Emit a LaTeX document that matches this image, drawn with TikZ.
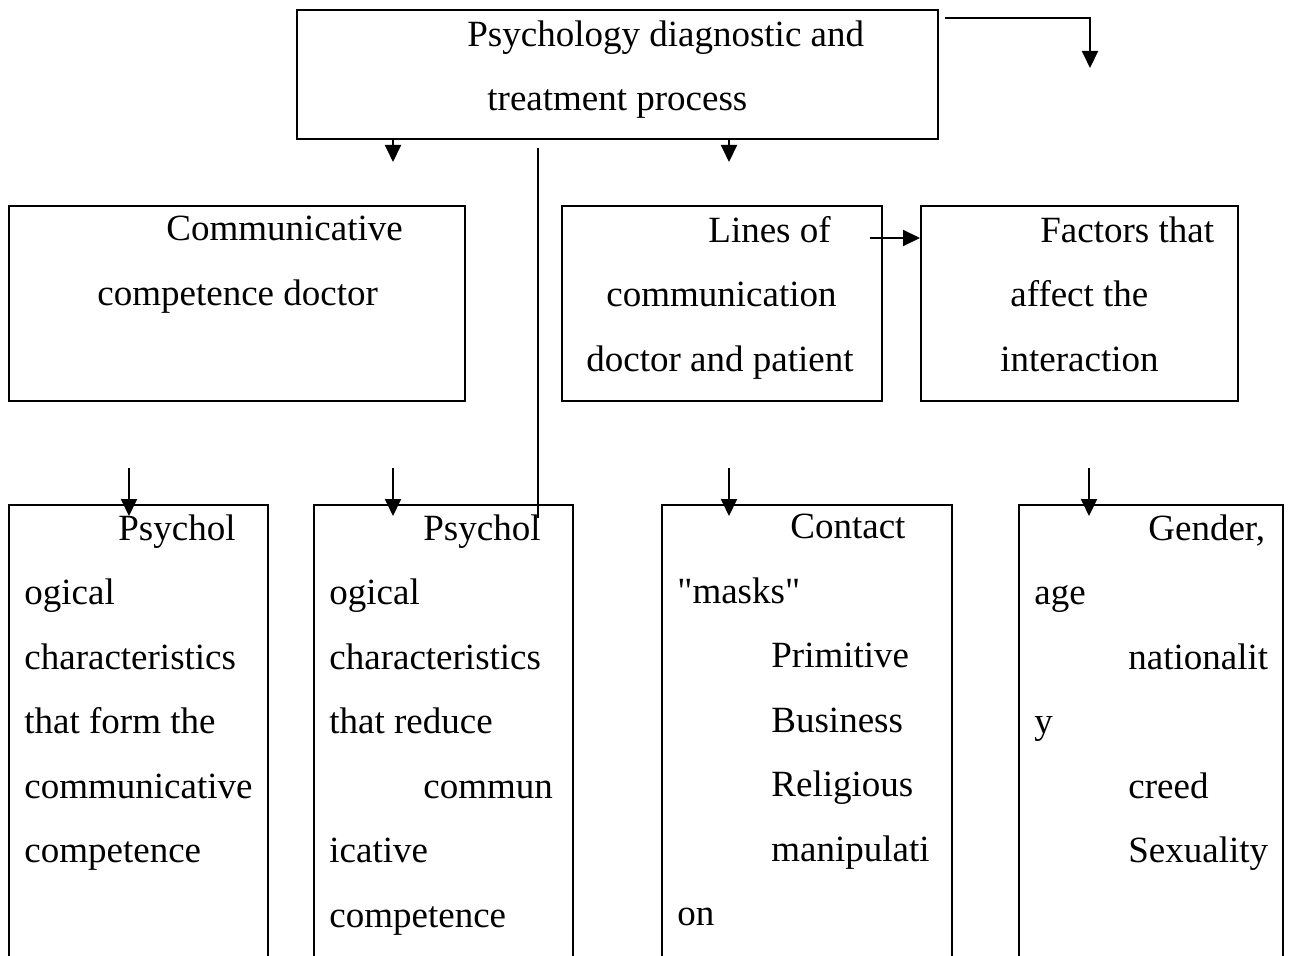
\documentclass[tikz,border=0pt]{standalone}
\usepackage{fontspec}
\setmainfont{Liberation Serif}[Ligatures=TeXOff]
\usetikzlibrary{arrows.meta}
\tikzset{
  box/.style={draw, line width=1pt, inner sep=0pt},
  txt/.style={inner sep=0pt, anchor=north west, align=left, font=\fontsize{18.5}{32.25}\selectfont},
  arr/.style={line width=1pt, -{Triangle[length=8.5pt,width=8pt]}},
}
\begin{document}
\begin{tikzpicture}[x=0.5pt,y=-0.5pt]
    \useasboundingbox (0,0) rectangle (1294,956);
    \clip (0,0) rectangle (1294,956);
    % boxes
    \node[box, minimum width=320.5pt, minimum height=64.5pt] (process) at (617.5,74.5) {};
    \node[box, minimum width=228pt, minimum height=97.5pt] (competence) at (237,303.5) {};
    \node[box, minimum width=160pt, minimum height=97.5pt] (lines) at (722,303.5) {};
    \node[box, minimum width=158.5pt, minimum height=97.5pt] (factors) at (1079.5,303.5) {};
    \node[box, minimum width=129.5pt, minimum height=247.5pt] (formA) at (138.5,752.5) {};
    \node[box, minimum width=129.5pt, minimum height=247.5pt] (reduceB) at (443.5,752.5) {};
    \node[box, minimum width=145pt, minimum height=247.5pt] (masks) at (807,752.5) {};
    \node[box, minimum width=132pt, minimum height=247.5pt] (gender) at (1151,752.5) {};
    % texts
    \node[txt] (tProcess) at (467,20) {Psychology diagnostic and\\\hspace*{10pt}treatment process};
    \node[txt] (tCompetence) at (97,216) {\hspace*{34.5pt}Communicative\\competence doctor};
    \node[txt] (tLines) at (586,216) {\hspace*{61pt}Lines of\\\hspace*{10pt}communication\\doctor and patient};
    \node[txt] (tFactors) at (1000,216) {\hspace*{20pt}Factors that\\\hspace*{5pt}affect the\\interaction};
    \node[txt] (tFormA) at (24,514) {\hspace*{47pt}Psychol\\ogical\\characteristics\\that form the\\communicative\\competence};
    \node[txt] (tReduceB) at (329,514) {\hspace*{47pt}Psychol\\ogical\\characteristics\\that reduce\\\hspace*{47pt}commun\\icative\\competence};
    \node[txt] (tMasks) at (677,514) {\hspace*{56.5pt}Contact\\"masks"\\\hspace*{47pt}Primitive\\\hspace*{47pt}Business\\\hspace*{47pt}Religious\\\hspace*{47pt}manipulati\\on};
    \node[txt] (tGender) at (1034,514) {\hspace*{57pt}Gender,\\age\\\hspace*{47pt}nationalit\\y\\\hspace*{47pt}creed\\\hspace*{47pt}Sexuality};
    % connectors
    \coordinate (outR) at (945,18);
    \coordinate (turnR) at (1090,18);
    \coordinate (endR) at (1090,68);
    \draw[arr] (outR) -- (turnR) -- (endR);
    \coordinate (downL) at (393,162);
    \coordinate (downM) at (729,162);
    \draw[arr] (downL |- process.south) -- (downL);
    \draw[arr] (downM |- process.south) -- (downM);
    \coordinate (stemTop) at (538,148);
    \coordinate (stemEnd) at (538,518);
    \draw[line width=1pt] (stemTop) -- (stemEnd);
    \coordinate (sideA) at (870,238);
    \draw[arr] (sideA) -- (sideA -| factors.west);
    \foreach \b/\x in {formA/129, reduceB/393, masks/729, gender/1089} {
        \coordinate (d\b) at (\x,468);
        \draw[arr, shorten >=-6pt] (d\b) -- (d\b |- \b.north);
    }
\end{tikzpicture}
\end{document}
